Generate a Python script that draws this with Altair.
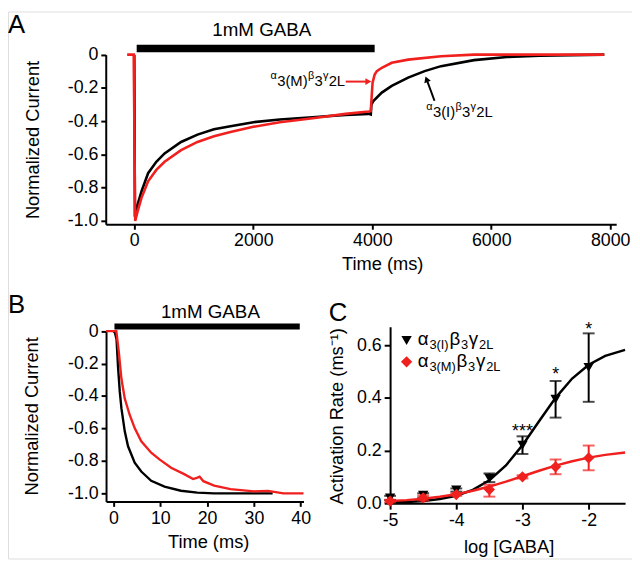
import altair as alt
import pandas as pd

FONT = "Liberation Sans"
RED = "#f0201e"
BLACK = "#000000"
W, H = 632, 554

# ---------------- Panel A data (time in ms, normalized current) ----------------
a_red_t = [-120, -10, 15, 50, 121, 232, 370, 509, 786, 1062, 1339, 1616, 2000, 2445, 2999,
           3552, 3939, 3975, 3990, 4005, 4040, 4077, 4160, 4327, 4603, 5156, 5710, 7900]
a_red_v = [0.0, 0.0, -1.0, -0.95, -0.861, -0.762, -0.693, -0.644, -0.574, -0.525, -0.491,
           -0.465, -0.434, -0.406, -0.382, -0.356, -0.342, -0.34, -0.25, -0.168, -0.12,
           -0.099, -0.079, -0.049, -0.030, -0.010, 0.0, 0.0]
a_black_t = [0, 10, 40, 121, 232, 370, 509, 786, 1062, 1339, 1616, 2003, 2445, 2999, 3552,
             3939, 3975, 3985, 4022, 4160, 4327, 4603, 4880, 5156, 5710, 6263, 6816, 7900]
a_black_v = [0.0, -0.975, -0.92, -0.822, -0.713, -0.644, -0.594, -0.525, -0.481, -0.449,
             -0.430, -0.406, -0.390, -0.376, -0.362, -0.356, -0.36, -0.30, -0.277, -0.228,
             -0.188, -0.138, -0.099, -0.069, -0.033, -0.014, -0.006, 0.0]
a_bar = [40, 4040, 0.037]           # GABA application start, end, level
a_xticks = [0, 2000, 4000, 6000, 8000]
a_yticks = [0, -0.2, -0.4, -0.6, -0.8, -1.0]

# ---------------- Panel B data ----------------
b_red_t = [-1.6, 0.6, 1.13, 1.69, 2.4, 3.46, 4.52, 5.93, 8.05, 9.82, 12.3, 15.1, 17.0, 17.8,
           18.4, 19.2, 21.5, 25.0, 30.0, 33.0, 36.3, 40.6]
b_red_v = [0.0, 0.0, -0.13, -0.294, -0.416, -0.517, -0.598, -0.679, -0.750, -0.791, -0.842,
           -0.882, -0.912, -0.905, -0.898, -0.925, -0.953, -0.974, -0.988, -0.985, -1.0, -1.0]
b_black_t = [0.0, 0.3, 0.64, 0.99, 1.34, 1.69, 2.4, 3.1, 4.52, 5.93, 8.05, 10.9, 14.4, 17.9,
             21.5, 34.0]
b_black_v = [0.0, -0.01, -0.05, -0.233, -0.375, -0.477, -0.618, -0.710, -0.811, -0.866,
             -0.923, -0.959, -0.984, -0.996, -1.0, -1.0]
b_bar = [0.2, 39.8, 0.0286]
b_xticks = [0, 10, 20, 30, 40]
b_yticks = [0, -0.2, -0.4, -0.6, -0.8, -1.0]

# ---------------- Panel C data ----------------
c_x = [-5.0, -4.5, -4.0, -3.5, -3.0, -2.5, -2.0]
c_black = [0.02, 0.03, 0.05, 0.095, 0.22, 0.395, 0.515]
c_black_lo = [0.012, 0.022, 0.044, 0.08, 0.187, 0.325, 0.385]
c_black_hi = [0.028, 0.038, 0.056, 0.113, 0.254, 0.464, 0.645]
c_red = [0.008, 0.02, 0.033, 0.052, 0.10, 0.138, 0.172]
c_red_lo = [0.003, 0.01, 0.028, 0.025, 0.094, 0.11, 0.125]
c_red_hi = [0.013, 0.03, 0.038, 0.07, 0.106, 0.166, 0.219]
fit_x = [-5.0, -4.75, -4.5, -4.25, -4.0, -3.75, -3.5, -3.25, -3.0, -2.75, -2.5, -2.25,
         -2.0, -1.75, -1.45]
fit_black = [0.0026, 0.0047, 0.0087, 0.0158, 0.0285, 0.0506, 0.0872, 0.1434, 0.2205,
             0.311, 0.400, 0.4735, 0.5258, 0.5594, 0.582]
fit_red = [0.0080, 0.0117, 0.0170, 0.0243, 0.0342, 0.0472, 0.0632, 0.0820, 0.1025,
           0.1232, 0.1425, 0.1593, 0.1730, 0.1836, 0.1928]
ast_x = [-3.0, -2.5, -2.0]
ast_y = [0.25, 0.469, 0.64]
ast_txt = ["***", "*", "*"]
c_xticks = [-5, -4, -3, -2]
c_yticks = [0.0, 0.2, 0.4, 0.6]

# ---------------- scales ----------------
xA = alt.Scale(domain=[-480, 8100], range=[99, 616], nice=False, zero=False)
yA = alt.Scale(domain=[-1.02, 0], range=[215.5, 43.7], nice=False, zero=False)
xB = alt.Scale(domain=[-1.6, 40.6], range=[99.3, 299.3], nice=False, zero=False)
yB = alt.Scale(domain=[-1.05, 0], range=[496.2, 323.7], nice=False, zero=False)
xC = alt.Scale(domain=[-5, -1.45], range=[387, 625], nice=False, zero=False)
yC = alt.Scale(domain=[0, 0.67], range=[498, 319.3], nice=False, zero=False)


def axis(orient, values, expr, offset, title, tx, ty, tick=5):
    return alt.Axis(
        orient=orient, values=values, labelExpr=expr, offset=offset, title=title,
        titleX=tx, titleY=ty, titleAngle=(270 if orient == "left" else 0),
        titleAlign="center", titleBaseline="middle", tickSize=tick, tickWidth=2,
        domainWidth=2, domainColor=BLACK, tickColor=BLACK, labelColor=BLACK,
        labelFontSize=18, labelFont=FONT, titleFont=FONT, titleFontSize=18.5,
        titleFontWeight="normal", titleColor=BLACK, labelPadding=3, grid=False,
        labelFlush=False, labelOverlap=False,
    )


neg1 = "datum.value == 0 ? '0' : '-' + format(abs(datum.value), '.1f')"
axA_x = axis("bottom", a_xticks, "format(datum.value, 'd')", 215.5 - H, "Time (ms)", 379, 39.5)
axA_y = axis("left", a_yticks, neg1, -99, "Normalized Current", -74, 129.6)
axB_x = axis("bottom", b_xticks, "format(datum.value, 'd')", 496.2 - H, "Time (ms)", 202.7, 41)
axB_y = axis("left", b_yticks, neg1, -99.3, "Normalized Current", -75, 409.5)
axC_x = axis("bottom", c_xticks, "'-' + format(abs(datum.value), 'd')", 498 - H, "log [GABA]", 507, 44, 6)
axC_y = axis("left", c_yticks, "format(datum.value, '.1f')", -387, "Activation Rate (ms\u207b\u00b9)", -54, 409.5, 6)


def enc(panel, xf="x", yf="y"):
    sx, sy, ax, ay = panel
    return dict(x=alt.X(xf, type="quantitative", scale=sx, axis=ax),
                y=alt.Y(yf, type="quantitative", scale=sy, axis=ay))


PA = (xA, yA, axA_x, axA_y)
PB = (xB, yB, axB_x, axB_y)
PC = (xC, yC, axC_x, axC_y)

EM = {c: 0.556 for c in "0123456789"}
EM.update({"(": 0.333, ")": 0.333, "I": 0.278, "M": 0.833, "L": 0.556,
           "\u03b1": 0.578, "\u03b2": 0.569, "\u03b3": 0.5})


def pieces(panel, x, y, parts, color=BLACK, gap=0.8):
    out = []
    off = 0.0
    df = pd.DataFrame({"x": [x], "y": [y]})
    for txt, size, dy in parts:
        out.append(alt.Chart(df).mark_text(align="left", baseline="alphabetic", dx=off, dy=dy,
                                           fontSize=size, font=FONT, color=color)
                   .encode(text=alt.value(txt), **enc(panel)))
        off += sum(EM[c] for c in txt) * size + gap
    return out


def single_text(panel, x, y, txt, size, align="center", baseline="middle"):
    df = pd.DataFrame({"x": [x], "y": [y]})
    return alt.Chart(df).mark_text(align=align, baseline=baseline, fontSize=size, font=FONT,
                                   color=BLACK).encode(text=alt.value(txt), **enc(panel))


def bar(panel, spec, width):
    df = pd.DataFrame({"x": [spec[0]], "x2": [spec[1]], "y": [spec[2]]})
    e = enc(panel)
    return alt.Chart(df).mark_rule(strokeWidth=width, color=BLACK, strokeCap="butt").encode(
        x=e["x"], x2="x2", y=e["y"])


def line(panel, xs, ys, color, width=2.4):
    df = pd.DataFrame({"x": xs, "y": ys})
    return alt.Chart(df).mark_line(color=color, strokeWidth=width, interpolate="linear").encode(**enc(panel))


# ---------------- Panel A ----------------
A_layers = [
    line(PA, a_black_t, a_black_v, BLACK, 2.6),
    line(PA, a_red_t, a_red_v, RED, 2.6),
    bar(PA, a_bar, 7.5),
    single_text(PA, 2142, 0.1485, "1mM GABA", 19),
    single_text(PA, -2123, 0.254, "A", 26, align="left", baseline="top"),
]
# red arrow + label
red_arrow = pd.DataFrame({"x": [3553], "x2": [3901], "y": [-0.162]})
eA = enc(PA)
A_layers.append(alt.Chart(red_arrow).mark_rule(color=RED, strokeWidth=2).encode(x=eA["x"], x2="x2", y=eA["y"]))
A_layers.append(alt.Chart(pd.DataFrame({"x": [3934], "y": [-0.162]})).mark_point(
    shape="triangle-right", filled=True, color=RED, size=49, opacity=1).encode(**enc(PA)))
A_layers += pieces(PA, 2291, -0.188, [("\u03b1", 11, -7), ("3(M)", 15, 0), ("\u03b2", 11, -7),
                                       ("3", 15, 0), ("\u03b3", 11, -7), ("2L", 15, 0)], gap=0.3)
# black arrow + label
blk_arrow = pd.DataFrame({"x": [5046], "y": [-0.277], "x2": [4927], "y2": [-0.162]})
A_layers.append(alt.Chart(blk_arrow).mark_rule(color=BLACK, strokeWidth=2).encode(
    x=eA["x"], y=eA["y"], x2="x2", y2="y2"))
A_layers.append(alt.Chart(pd.DataFrame({"x": [4912], "y": [-0.148]})).mark_point(
    shape="triangle-up", filled=True, color=BLACK, size=49, opacity=1, angle=339.6).encode(**enc(PA)))
A_layers += pieces(PA, 4909, -0.376, [("\u03b1", 11, -7), ("3(I)", 15, 0), ("\u03b2", 11, -7),
                                       ("3", 15, 0), ("\u03b3", 11, -7), ("2L", 15, 0)], gap=0.3)
panelA = alt.layer(*A_layers)

# ---------------- Panel B ----------------
B_layers = [
    line(PB, b_black_t, b_black_v, BLACK),
    line(PB, b_red_t, b_red_v, RED),
    bar(PB, b_bar, 6),
    single_text(PB, 20.7, 0.12, "1mM GABA", 19),
    single_text(PB, -22.55, 0.114, "B", 26, align="left", baseline="alphabetic"),
]
panelB = alt.layer(*B_layers)

# ---------------- Panel C ----------------
cdf = pd.DataFrame({"x": c_x, "yb": c_black, "bl": c_black_lo, "bh": c_black_hi,
                    "yr": c_red, "rl": c_red_lo, "rh": c_red_hi})
eC_x = alt.X("x", type="quantitative", scale=xC, axis=axC_x)


def yC_(f):
    return alt.Y(f, type="quantitative", scale=yC, axis=axC_y)


C_layers = [
    line(PC, fit_x, fit_black, BLACK, 2.5),
    alt.Chart(cdf).mark_rule(color=BLACK, strokeWidth=2).encode(x=eC_x, y=yC_("bl"), y2="bh"),
    alt.Chart(cdf).mark_tick(color=BLACK, orient="horizontal", size=12, thickness=2).encode(x=eC_x, y=yC_("bl")),
    alt.Chart(cdf).mark_tick(color=BLACK, orient="horizontal", size=12, thickness=2).encode(x=eC_x, y=yC_("bh")),
    alt.Chart(cdf).mark_point(shape="triangle-down", filled=True, color=BLACK, size=110, opacity=1).encode(x=eC_x, y=yC_("yb")),
    line(PC, fit_x, fit_red, RED, 2.5),
    alt.Chart(cdf).mark_rule(color=RED, strokeWidth=2).encode(x=eC_x, y=yC_("rl"), y2="rh"),
    alt.Chart(cdf).mark_tick(color=RED, orient="horizontal", size=12, thickness=2).encode(x=eC_x, y=yC_("rl")),
    alt.Chart(cdf).mark_tick(color=RED, orient="horizontal", size=12, thickness=2).encode(x=eC_x, y=yC_("rh")),
    alt.Chart(cdf).mark_point(shape="diamond", filled=True, color=RED, size=130, opacity=1).encode(x=eC_x, y=yC_("yr")),
    alt.Chart(pd.DataFrame({"x": ast_x, "y": ast_y, "t": ast_txt})).mark_text(
        fontSize=18, font=FONT, color=BLACK, align="center", baseline="alphabetic").encode(text="t", **enc(PC)),
    single_text(PC, -5.925, 0.69, "C", 26, align="left", baseline="alphabetic"),
    alt.Chart(pd.DataFrame({"x": [-4.751], "y": [0.618]})).mark_point(
        shape="triangle-down", filled=True, color=BLACK, size=110, opacity=1).encode(**enc(PC)),
    alt.Chart(pd.DataFrame({"x": [-4.751], "y": [0.537]})).mark_point(
        shape="diamond", filled=True, color=RED, size=130, opacity=1).encode(**enc(PC)),
]
C_layers += pieces(PC, -4.582, 0.600, [("\u03b1", 19, 0), ("3(I)", 13, 3.5), ("\u03b2", 19, 0),
                                       ("3", 13, 3.5), ("\u03b3", 19, 0), ("2L", 13, 3.5)])
C_layers += pieces(PC, -4.582, 0.516, [("\u03b1", 19, 0), ("3(M)", 13, 3.5), ("\u03b2", 19, 0),
                                       ("3", 13, 3.5), ("\u03b3", 19, 0), ("2L", 13, 3.5)])
panelC = alt.layer(*C_layers)

chart = (
    alt.layer(panelA, panelB, panelC)
    .resolve_scale(x="independent", y="independent")
    .properties(width=W, height=H, autosize=alt.AutoSizeParams(type="none"), padding=0)
    .configure_view(stroke=None)
    .configure(font=FONT)
)

chart.save("out.html", embed_options={"renderer": "svg", "actions": False})
